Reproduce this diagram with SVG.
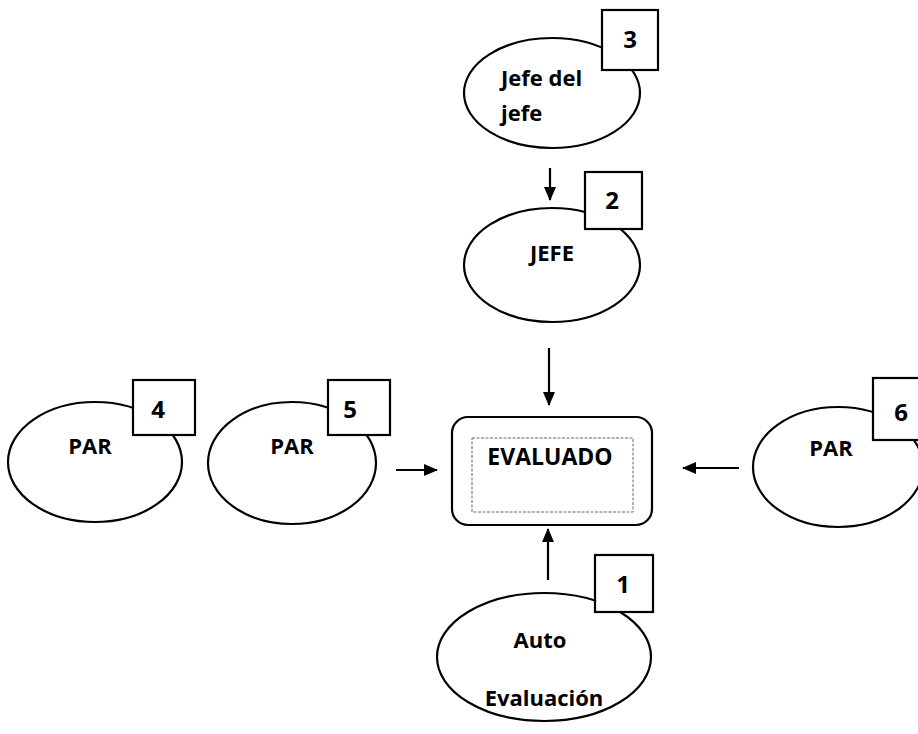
<svg xmlns="http://www.w3.org/2000/svg" width="918" height="734" viewBox="0 0 918 734">
<style>
.e{fill:#fff;stroke:#000;stroke-width:2.2}
.b{fill:#fff;stroke:#000;stroke-width:2.2}
.t{font-family:"Open Sans","Liberation Sans",sans-serif;font-weight:bold;font-size:22px;fill:#000}
.n{font-family:"Open Sans","Liberation Sans",sans-serif;font-weight:bold;font-size:24px;fill:#000;text-anchor:middle}
.c{stroke:#000;stroke-width:2.2;fill:none;marker-end:url(#ah)}
</style>
<defs>
<marker id="ah" markerWidth="14" markerHeight="12" refX="13" refY="6" orient="auto" markerUnits="userSpaceOnUse">
<path d="M0,0 L14,6 L0,12 Z" fill="#000"/>
</marker>
</defs>
<rect width="918" height="734" fill="#fff"/>
<g id="connectors">
<line class="c" x1="550" y1="168" x2="550" y2="200"/>
<line class="c" x1="549" y1="348" x2="549" y2="405"/>
<line class="c" x1="548" y1="580" x2="548" y2="529"/>
<line class="c" x1="396" y1="470" x2="437" y2="470"/>
<line class="c" x1="739" y1="468" x2="683" y2="468"/>
</g>
<g id="jefedeljefe">
<ellipse class="e" cx="552" cy="93" rx="88" ry="55"/>
<rect class="b" x="602" y="10" width="56" height="60"/>
<text class="n" x="630" y="48">3</text>
<text class="t" x="501" y="86">Jefe del</text>
<text class="t" x="501" y="121">jefe</text>
</g>
<g id="jefe">
<ellipse class="e" cx="552" cy="265" rx="88" ry="57"/>
<rect class="b" x="585" y="172" width="57" height="57"/>
<text class="n" x="612" y="209">2</text>
<text class="t" x="552" y="261" text-anchor="middle">JEFE</text>
</g>
<g id="evaluado">
<rect x="452" y="417" width="200" height="108" rx="16" fill="#fff" stroke="#000" stroke-width="2.2"/>
<rect x="472" y="438" width="161" height="74" fill="none" stroke="#666" stroke-width="1" stroke-dasharray="3,1.5"/>
<text x="550" y="465" text-anchor="middle" font-family="'Open Sans','Liberation Sans',sans-serif" font-weight="bold" font-size="23">EVALUADO</text>
</g>
<g id="auto">
<ellipse class="e" cx="544" cy="657" rx="107" ry="64"/>
<rect class="b" x="595" y="555" width="58" height="57"/>
<text class="n" x="623" y="593">1</text>
<text class="t" x="540" y="648" text-anchor="middle">Auto</text>
<text class="t" x="544" y="706" text-anchor="middle">Evaluación</text>
</g>
<g id="par4">
<ellipse class="e" cx="95" cy="462" rx="87" ry="60"/>
<rect class="b" x="133" y="380" width="62" height="55"/>
<text class="n" x="158" y="418">4</text>
<text class="t" x="90" y="454" text-anchor="middle">PAR</text>
</g>
<g id="par5">
<ellipse class="e" cx="292" cy="463" rx="84" ry="61"/>
<rect class="b" x="328" y="380" width="62" height="55"/>
<text class="n" x="350" y="418">5</text>
<text class="t" x="292" y="454" text-anchor="middle">PAR</text>
</g>
<g id="par6">
<ellipse class="e" cx="838" cy="467" rx="85" ry="60"/>
<rect class="b" x="873" y="378" width="60" height="62"/>
<text class="n" x="901" y="421">6</text>
<text class="t" x="831" y="456" text-anchor="middle">PAR</text>
</g>
</svg>
